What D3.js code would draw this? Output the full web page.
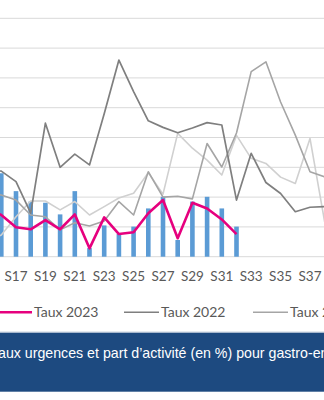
<!DOCTYPE html>
<html>
<head>
<meta charset="utf-8">
<script src="https://cdn.jsdelivr.net/npm/d3@7"></script>
<style>
  html, body { margin: 0; padding: 0; background: #fff; overflow: hidden; }
  svg { display: block; }
</style>
</head>
<body>
<svg id="chart" width="324" height="400"></svg>
<script>
// ---- data (visible part of a larger weekly chart) ----
const weeks = ["S15","S16","S17","S18","S19","S20","S21","S22","S23","S24","S25","S26",
               "S27","S28","S29","S30","S31","S32","S33","S34","S35","S36","S37","S38"];
const tickLabels = ["S17","S19","S21","S23","S25","S27","S29","S31","S33","S35","S37"];
// bars: part d'activité 2023
const part2023 = [null,2.80,2.20,1.85,1.81,1.42,2.20,0.29,1.05,0.76,1.01,1.62,
                  2.01,0.56,1.85,2.01,1.62,1.01,null,null,null,null,null,null];
const taux2023 = [1.60,1.40,0.99,0.92,1.23,0.92,1.42,0.28,1.32,0.76,0.82,1.46,
                  1.90,0.62,1.81,1.62,1.25,0.76,null,null,null,null,null,null];
const taux2022 = [2.94,2.87,2.52,1.46,4.48,3.00,3.44,3.08,4.80,6.60,5.54,4.56,
                  4.34,4.16,4.32,4.50,4.42,1.90,3.47,2.49,2.12,1.51,1.66,1.68];
const taux2021 = [2.13,2.07,1.90,1.40,1.34,0.90,1.14,1.03,1.20,1.85,1.40,2.85,
                  2.00,2.03,1.94,3.80,3.01,4.15,6.21,6.54,5.19,4.08,2.85,2.68];
const taux2020 = [0.45,0.73,1.34,1.87,1.87,1.57,1.85,1.40,1.68,1.97,2.13,2.82,
                  2.10,4.14,3.64,3.24,2.74,4.07,3.30,3.13,2.67,2.46,3.97,1.16];
const yTicks = [0,1,2,3,4,5,6,7,8];
const legendNames = ["Taux 2023","Taux 2022","Taux 2021"];
const titleText = "aux urgences et part d’activité (en %) pour gastro-entérite";

// ---- layout ----
const svg = d3.select("#chart");
const step = 14.7;
const firstCenter = 16 - 2 * step; // S15 centre
const x = d3.scaleBand().domain(weeks)
  .range([firstCenter - step / 2, firstCenter - step / 2 + weeks.length * step])
  .padding(0);
const cx = w => x(w) + x.bandwidth() / 2;
const y = d3.scaleLinear().domain([0, 8]).range([256.7, 18.3]);

// gridlines
svg.append("g").selectAll("line").data(yTicks).join("line")
  .attr("x1", 0).attr("x2", 324)
  .attr("y1", d => y(d)).attr("y2", d => y(d))
  .attr("stroke", "#d9d9d9").attr("stroke-width", 1);

// bars
const bw = 4.6;
svg.append("g").selectAll("rect")
  .data(weeks.map((w, i) => ({ w, v: part2023[i] })).filter(d => d.v != null))
  .join("rect")
  .attr("x", d => cx(d.w) - bw / 2)
  .attr("width", bw)
  .attr("y", d => y(d.v))
  .attr("height", d => y(0) - y(d.v))
  .attr("fill", "#5b9bd5");

// lines
const series = [
  { vals: taux2020, color: "#d0d0d0", w: 1.6 },
  { vals: taux2021, color: "#a5a5a5", w: 1.6 },
  { vals: taux2022, color: "#7f7f7f", w: 1.7 },
  { vals: taux2023, color: "#e6007e", w: 2.6 }
];
const line = d3.line()
  .defined(d => d.v != null)
  .x(d => cx(d.w)).y(d => y(d.v));
series.forEach(s => {
  svg.append("path")
    .datum(weeks.map((w, i) => ({ w, v: s.vals[i] })))
    .attr("d", line)
    .attr("fill", "none")
    .attr("stroke", s.color)
    .attr("stroke-width", s.w)
    .attr("stroke-linejoin", "round");
});

// x axis labels
const axis = d3.axisBottom(x).tickValues(tickLabels).tickSize(0);
const ax = svg.append("g").attr("transform", `translate(0,${y(0)})`).call(axis);
ax.select(".domain").remove();
ax.selectAll("text")
  .attr("y", 20).attr("dy", "0.35em")
  .attr("fill", "#595959")
  .style("font-family", "Lato, 'Open Sans', sans-serif")
  .style("font-size", "13.5px");

// legend
const legendItems = [
  { name: legendNames[0], color: "#e6007e", w: 2.6, x1: -10, x2: 32 },
  { name: legendNames[1], color: "#7f7f7f", w: 1.4, x1: 124, x2: 159 },
  { name: legendNames[2], color: "#a5a5a5", w: 1.4, x1: 253, x2: 288 }
];
const lg = svg.append("g");
legendItems.forEach(d => {
  lg.append("line").attr("x1", d.x1).attr("x2", d.x2)
    .attr("y1", 312.3).attr("y2", 312.3)
    .attr("stroke", d.color).attr("stroke-width", d.w);
  lg.append("text").attr("x", d.x2 + 2).attr("y", 312.3).attr("dy", "0.35em")
    .attr("fill", "#595959")
    .style("font-family", "Lato, 'Open Sans', sans-serif")
    .style("font-size", "14px")
    .text(d.name);
});

// title banner
svg.append("line").attr("x1", 0).attr("x2", 324).attr("y1", 332).attr("y2", 332)
  .attr("stroke", "#c9d2de").attr("stroke-width", 1);
svg.append("rect").attr("x", 0).attr("y", 332.7).attr("width", 324).attr("height", 59)
  .attr("fill", "#1d4a80");
svg.append("text").attr("x", -2).attr("y", 353.3).attr("dy", "0.35em")
  .attr("fill", "#ffffff")
  .style("font-family", "'Liberation Sans', Arial, sans-serif")
  .style("font-size", "14.2px")
  .text(titleText);
</script>
</body>
</html>
